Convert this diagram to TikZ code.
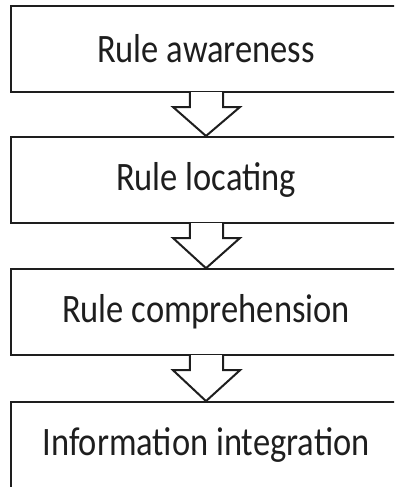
\documentclass[tikz,border=0pt]{standalone}
\usepackage{fontspec}
\setmainfont{Carlito}
\usetikzlibrary{calc}
\definecolor{ink}{HTML}{1E1E1E}
\newcommand{\tallText}[1]{\scalebox{1}[1.17]{#1}}
\tikzset{
  stage/.style={draw=ink, line width=2pt, fill=white, rectangle,
    minimum width=389.6pt, minimum height=86pt, inner sep=0pt,
    text=ink, font=\fontsize{34.5}{40}\selectfont},
  blockarrow/.style={draw=ink, line width=2pt, fill=white, line join=miter}
}
% block arrow from the bottom of one stage to the top of the next
\newcommand{\stepArrow}[2]{%
  \filldraw[blockarrow]
    ($(#1.south)+(-16.2,-1)$) -- ($(#1.south)+(-16.2,14)$)
    -- ($(#1.south)+(-33,14)$) -- (#2.north)
    -- ($(#1.south)+(34,14)$) -- ($(#1.south)+(17.2,14)$)
    -- ($(#1.south)+(17.2,-1)$);
}
\begin{document}
\begin{tikzpicture}[x=1pt, y={(0pt,-1pt)}]
  \useasboundingbox (0,0) rectangle (394,487);
  \clip (0,0) rectangle (394,487);
  \node[stage] (box1) at (206,49)    {\tallText{Rule awareness}};
  \node[stage] (box2) at (206,180)   {\tallText{Rule locating}};
  \node[stage] (box3) at (206,312.2) {\tallText{Rule comprehension}};
  \node[stage] (box4) at (206,445.1) {\tallText{Information integration}};
  \stepArrow{box1}{box2}
  \stepArrow{box2}{box3}
  \stepArrow{box3}{box4}
\end{tikzpicture}
\end{document}
